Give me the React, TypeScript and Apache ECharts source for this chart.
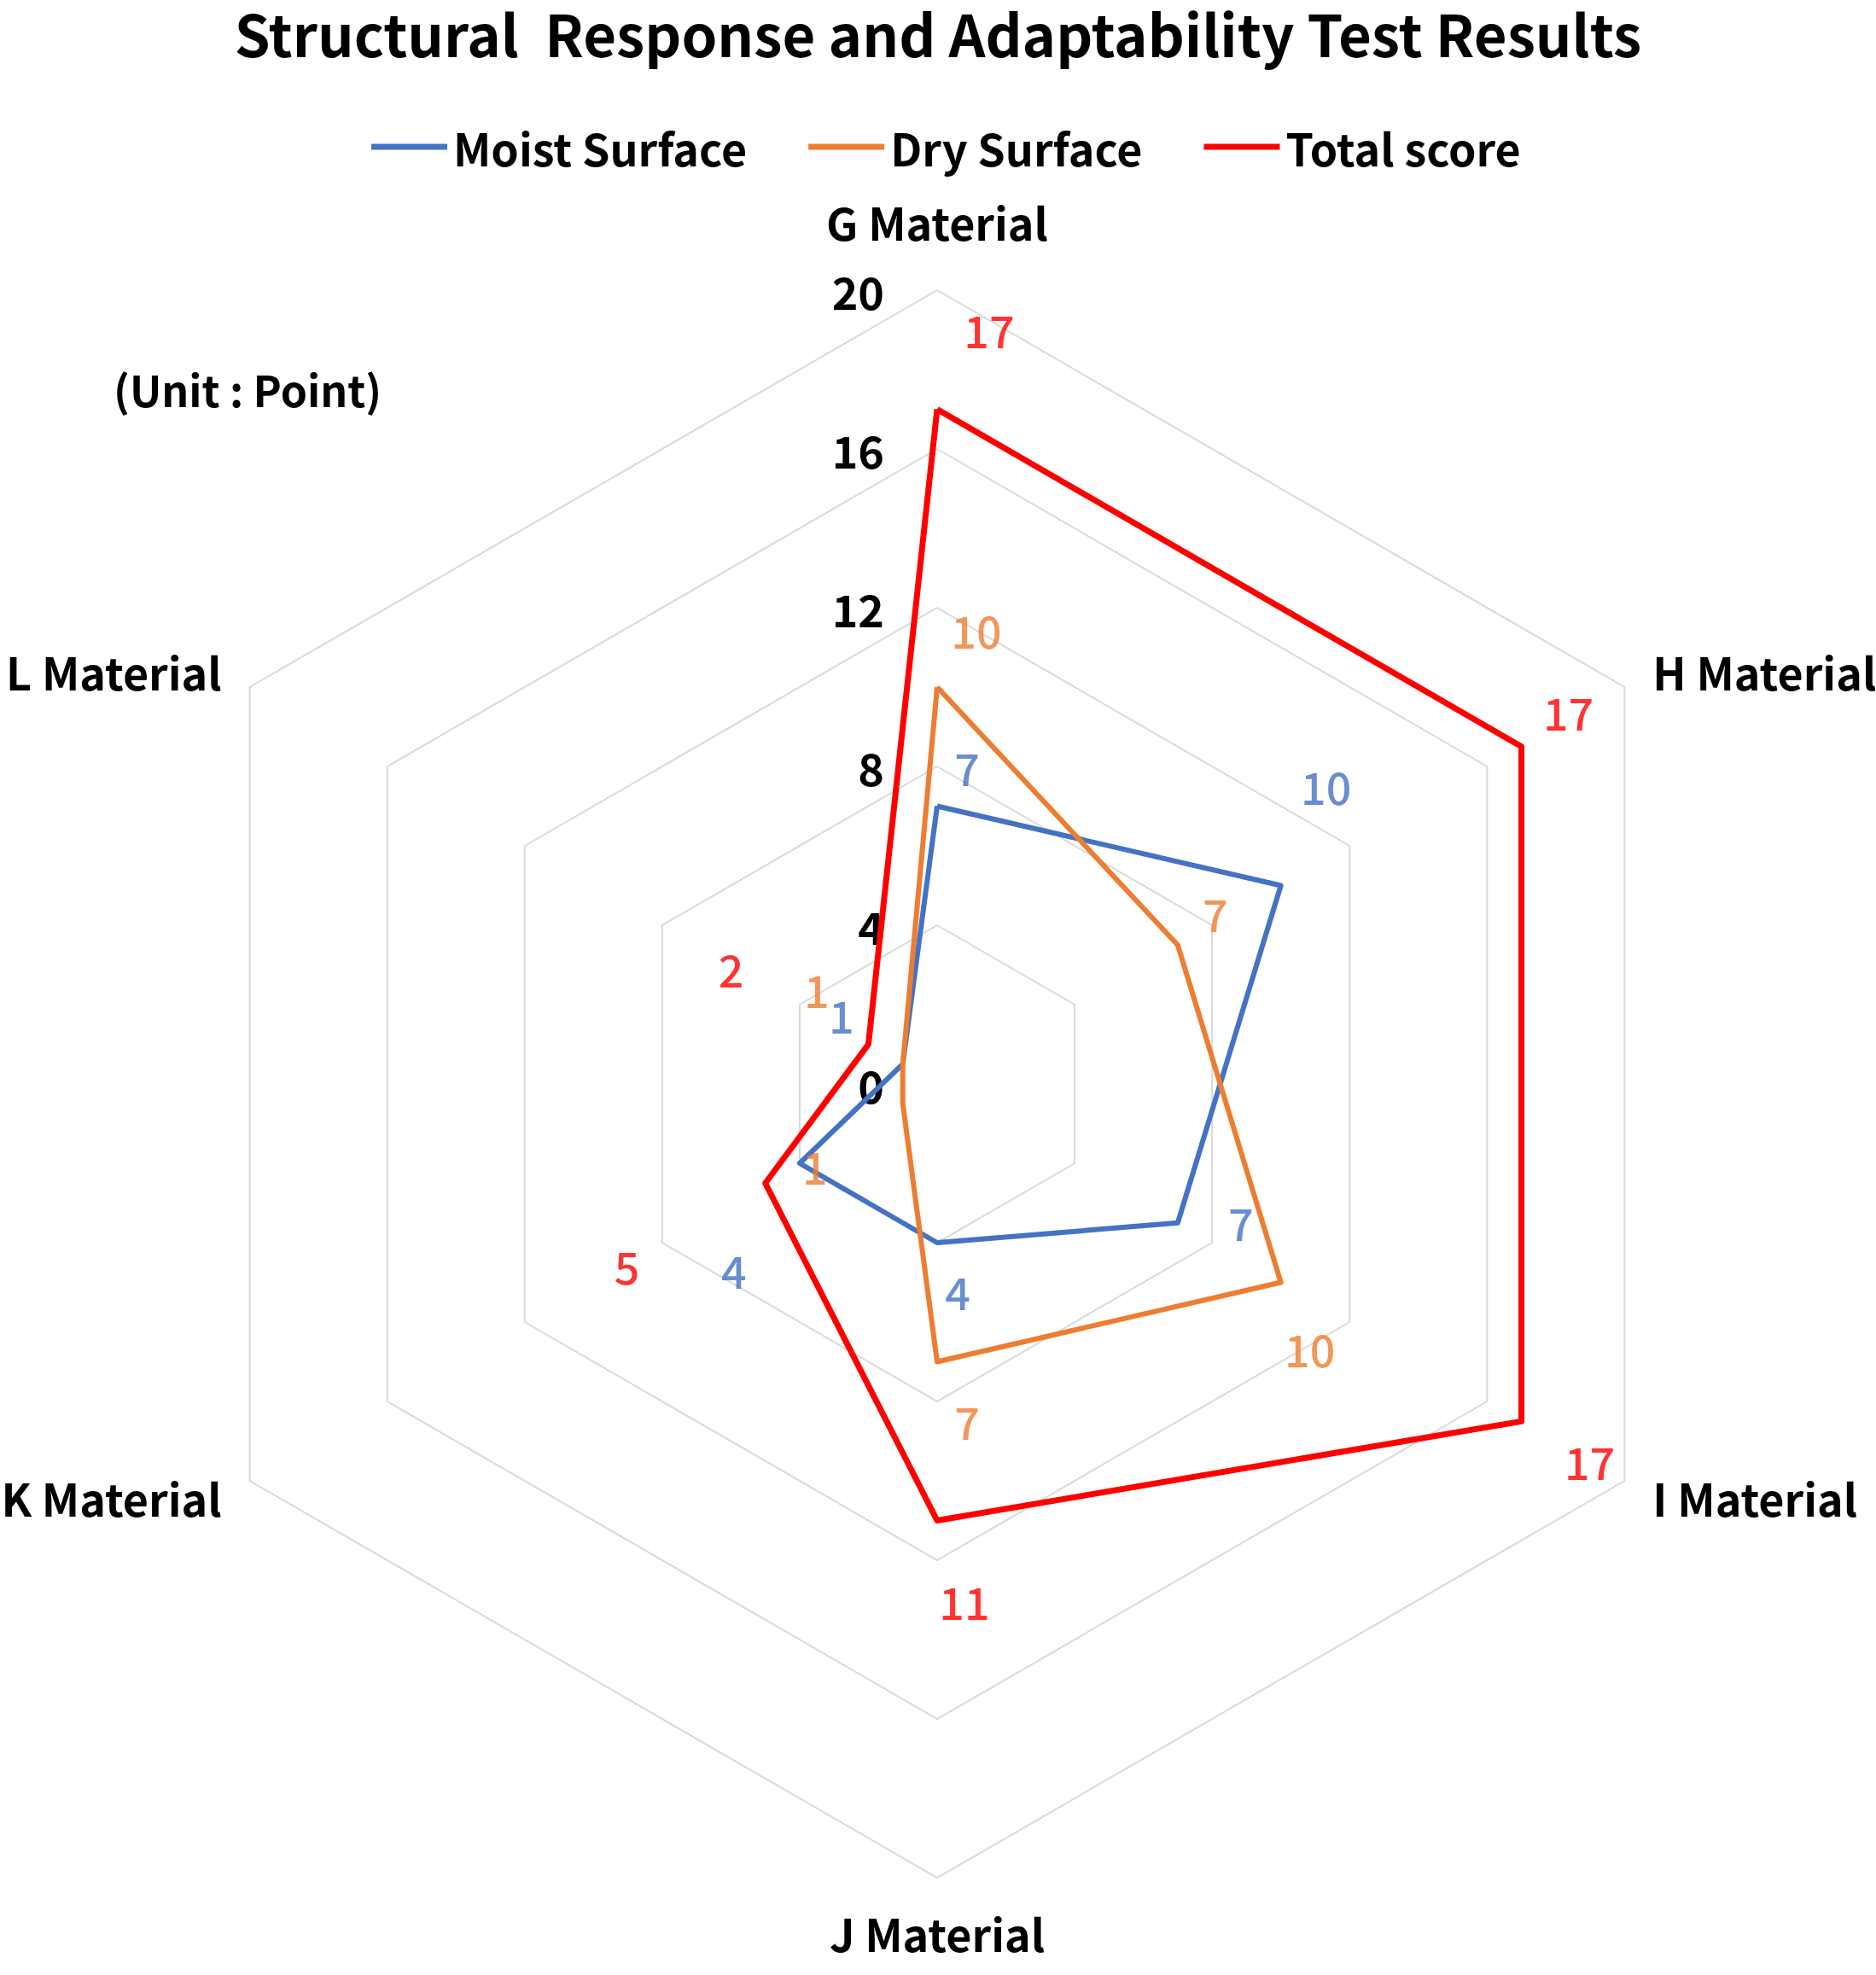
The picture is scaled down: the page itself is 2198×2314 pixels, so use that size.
import React, { useEffect, useRef } from "react";
import * as echarts from "echarts";

const categories = ["G Material", "H Material", "I Material", "J Material", "K Material", "L Material"];
const seriesNames = ["Moist Surface", "Dry Surface", "Total score"];
const moistSurface = [7, 10, 7, 4, 4, 1];
const drySurface = [10, 7, 10, 7, 1, 1];
const totalScore = [17, 17, 17, 11, 5, 2];
const axisMax = 20;
const axisSplits = 5; // ticks 0, 4, 8, 12, 16, 20

const seriesColors = ["#4472C4", "#ED7D31", "#FF0000"];
const seriesWidths = [6, 6, 7];

// label offsets (px) from each vertex, per series, in category order
const labelOffsets = [
  [[35, -46], [53, -117], [74, -1], [24, 56], [-77, 124], [-72, -58]],
  [[46, -68], [44, -38], [34, 77], [35, 69], [-103, 72], [-101, -88]],
  [[61, -94], [55, -41], [80, 46], [32, 94], [-162, 96], [-161, -89]],
];
// name gap per category (px)
const nameGaps = [55, 38, 38, 38, 38, 38];

const FONT = "'Noto Sans CJK KR', 'Noto Sans', sans-serif";
const CX = 1098;
const CY = 1270;
const R = 930;

export default function App() {
  const ref = useRef<HTMLDivElement>(null);
  useEffect(() => {
    if (!ref.current) return;
    document.body.style.margin = "0";
    const chart = echarts.init(ref.current, null, { renderer: "svg" });
    const values = [moistSurface, drySurface, totalScore];
    // radar places indicators counter-clockwise from top; reorder so H is upper right
    const n = categories.length;
    const radarOrder = categories.map((_, k) => (n - k) % n);
    const step = 360 / n;

    const radarSeries = values.map((vals, s) => ({
      type: "radar",
      name: seriesNames[s],
      radarIndex: 0,
      symbol: "none",
      z: 2 + s,
      lineStyle: { color: seriesColors[s], width: seriesWidths[s] },
      itemStyle: { color: seriesColors[s] },
      data: [{ name: seriesNames[s], value: radarOrder.map((i) => vals[i]) }],
      silent: true,
    }));

    const labelSeries = values.map((vals, s) => ({
      type: "scatter",
      name: "labels-" + s,
      coordinateSystem: "polar",
      symbolSize: 0,
      silent: true,
      z: 10,
      label: {
        show: true,
        position: "inside",
        color: seriesColors[s],
        fontSize: 52,
        fontFamily: FONT,
        fontWeight: 500,
        formatter: (p: any) => String(p.value[0]),
      },
      data: vals.map((v, i) => ({
        value: [v, i * step],
        label: { offset: labelOffsets[s][i] },
      })),
    }));

    chart.setOption({
      animation: false,
      backgroundColor: "#ffffff",
      textStyle: { fontFamily: FONT },
      title: [
        {
          text: "Structural  Response and Adaptability Test Results",
          left: "center",
          top: 4,
          padding: 0,
          textStyle: { fontSize: 67, fontWeight: "bold", color: "#000", fontFamily: FONT },
        },
        {
          text: "(Unit : Point)",
          left: 128,
          top: 425,
          textStyle: { fontSize: 50, fontWeight: "bold", color: "#000", fontFamily: FONT },
        },
      ],
      legend: {
        data: seriesNames,
        left: 430,
        top: 141,
        icon: "rect",
        itemWidth: 89,
        itemHeight: 7,
        itemGap: 72,
        selectedMode: false,
        itemStyle: { borderWidth: 0 },
        textStyle: { fontSize: 52, fontWeight: "bold", color: "#000", fontFamily: FONT, padding: [0, 0, 0, 2] },
      },
      radar: {
        center: [CX, CY],
        radius: R,
        startAngle: 90,
        splitNumber: axisSplits,
        shape: "polygon",
        nameGap: 38,
        indicator: radarOrder.map((i, k) =>
          k === 0
            ? { name: categories[i], min: 0, max: axisMax, nameGap: nameGaps[i], axisLabel: { show: true } }
            : { name: categories[i], min: 0, max: axisMax, nameGap: nameGaps[i] }
        ),
        axisName: { color: "#000", fontSize: 52, fontWeight: "bold", fontFamily: FONT },
        axisLine: { show: false },
        axisTick: { show: false },
        splitArea: { show: false },
        splitLine: { lineStyle: { color: "#d9d9d9", width: 2 } },
        axisLabel: {
          show: false,
          color: "#000",
          fontSize: 52,
          fontWeight: "bold",
          fontFamily: FONT,
          margin: 62,
        },
      },
      polar: { center: [CX, CY], radius: R },
      angleAxis: {
        type: "value",
        min: 0,
        max: 360,
        startAngle: 90,
        clockwise: true,
        show: false,
        splitLine: { show: false },
      },
      radiusAxis: {
        type: "value",
        min: 0,
        max: axisMax,
        show: false,
        splitLine: { show: false },
      },
      series: [...radarSeries, ...labelSeries],
    });
    return () => chart.dispose();
  }, []);
  return (
    <div
      ref={ref}
      style={{ position: "absolute", left: 0, top: 0, width: 2198, height: 2314 }}
    />
  );
}
